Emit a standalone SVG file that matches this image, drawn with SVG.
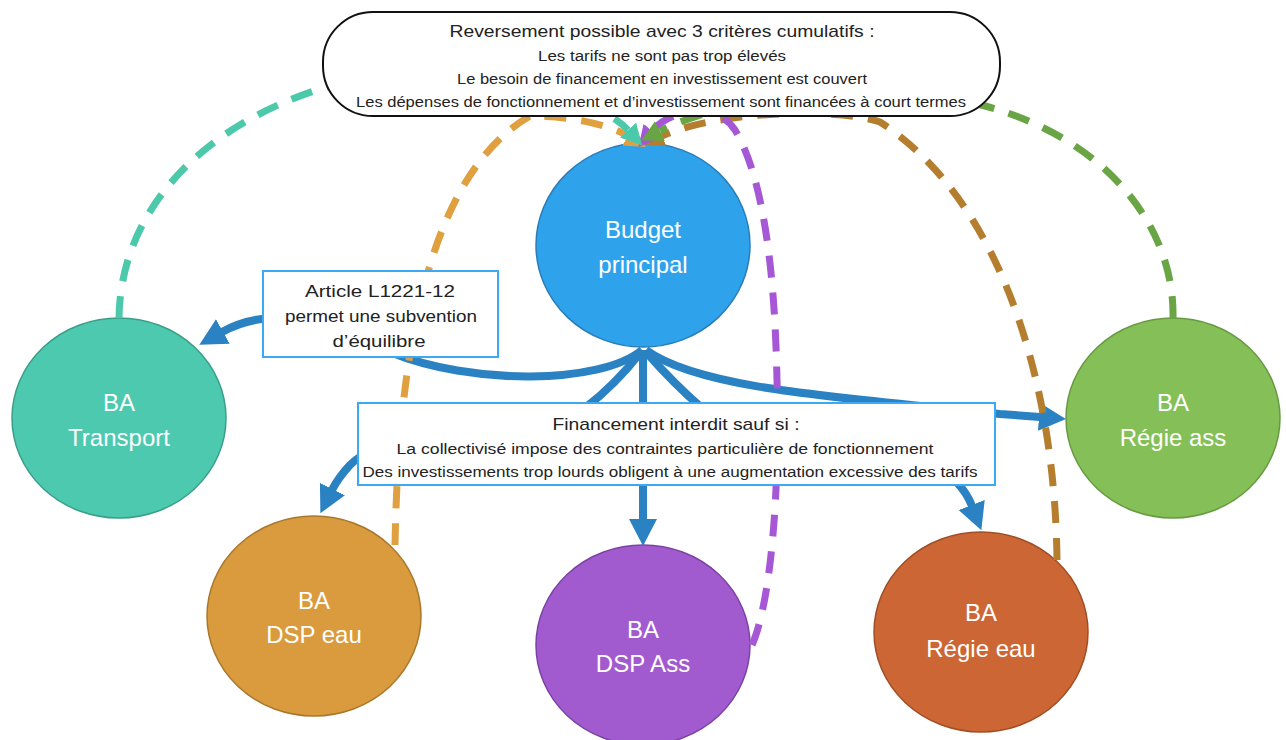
<svg xmlns="http://www.w3.org/2000/svg" width="1286" height="740" viewBox="0 0 1286 740">
<style>
.bg{fill:#ffffff}
.blue{fill:none;stroke:#2A82C3;stroke-width:8}
.dash{fill:none;stroke-width:7;stroke-dasharray:22 15}
.node text{font-family:"Liberation Sans",Arial,sans-serif;font-size:24px;fill:#ffffff;text-anchor:middle}
.box text{font-family:"Liberation Sans",Arial,sans-serif;fill:#222222;text-anchor:middle}
.bbox{fill:#ffffff;stroke:#3DA9F4;stroke-width:2}
.t1{font-size:17px}
.t2{font-size:14px}
</style>
<defs>
<marker id="ab" viewBox="0 0 28 30" refX="1" refY="15" markerWidth="28" markerHeight="30" markerUnits="userSpaceOnUse" orient="auto"><path d="M0,1 L27,15 L0,29 z" fill="#2A82C3"/></marker>
<marker id="at" viewBox="0 0 22 22" refX="0" refY="11" markerWidth="22" markerHeight="22" markerUnits="userSpaceOnUse" orient="auto"><path d="M0,0 L21,11 L0,22 z" fill="#4CC9AA"/></marker>
<marker id="ao" viewBox="0 0 22 22" refX="0" refY="11" markerWidth="22" markerHeight="22" markerUnits="userSpaceOnUse" orient="auto"><path d="M0,0 L21,11 L0,22 z" fill="#E0A040"/></marker>
<marker id="ap" viewBox="0 0 22 22" refX="0" refY="11" markerWidth="22" markerHeight="22" markerUnits="userSpaceOnUse" orient="auto"><path d="M0,0 L21,11 L0,22 z" fill="#A557D6"/></marker>
<marker id="abr" viewBox="0 0 22 22" refX="0" refY="11" markerWidth="22" markerHeight="22" markerUnits="userSpaceOnUse" orient="auto"><path d="M0,0 L21,11 L0,22 z" fill="#B57E2E"/></marker>
<marker id="ag" viewBox="0 0 22 22" refX="0" refY="11" markerWidth="22" markerHeight="22" markerUnits="userSpaceOnUse" orient="auto"><path d="M0,0 L21,11 L0,22 z" fill="#69A544"/></marker>
</defs>
<rect class="bg" x="0" y="0" width="1286" height="740"/>

<g id="budget" class="node">
  <ellipse cx="643" cy="245" rx="107" ry="102" fill="#2EA3EB" stroke="#2A7DB8" stroke-width="1.5"/>
  <text x="643" y="238">Budget</text>
  <text x="643" y="273">principal</text>
</g>

<g id="transport" class="node">
  <ellipse cx="119" cy="418" rx="107" ry="100" fill="#4CC9AE" stroke="#3A9F88" stroke-width="1.5"/>
  <text x="119" y="411">BA</text>
  <text x="119" y="446">Transport</text>
</g>

<g id="dsp-eau" class="node">
  <ellipse cx="314" cy="616" rx="107" ry="100" fill="#D99B3E" stroke="#A9772C" stroke-width="1.5"/>
  <text x="314" y="609">BA</text>
  <text x="314" y="643">DSP eau</text>
</g>

<g id="dsp-ass" class="node">
  <ellipse cx="643" cy="645" rx="107" ry="100" fill="#A15BCF" stroke="#7C42A3" stroke-width="1.5"/>
  <text x="643" y="638">BA</text>
  <text x="643" y="672">DSP Ass</text>
</g>

<g id="regie-eau" class="node">
  <ellipse cx="981" cy="632" rx="107" ry="100" fill="#CC6634" stroke="#A04E25" stroke-width="1.5"/>
  <text x="981" y="621">BA</text>
  <text x="981" y="657">Régie eau</text>
</g>

<g id="regie-ass" class="node">
  <ellipse cx="1173" cy="418" rx="107" ry="100" fill="#84BF58" stroke="#679A42" stroke-width="1.5"/>
  <text x="1173" y="411">BA</text>
  <text x="1173" y="446">Régie ass</text>
</g>

<g id="connectors">
  <!-- blue financing arrows -->
  <path class="blue" d="M642 350 C600 385,470 385,390 352 C320 320,270 305,222 332" marker-end="url(#ab)"/>
  <path class="blue" d="M641 352 Q615 385,585 408 L400 440 Q365 450,350 465 Q338 478,332 490" marker-end="url(#ab)"/>
  <path class="blue" d="M643 350 L643 520" marker-end="url(#ab)"/>
  <path class="blue" d="M646 352 Q675 385,702 408 L930 462 Q962 480,972 506" marker-end="url(#ab)"/>
  <path class="blue" d="M646 350 C700 390,850 398,1000 414 L1040 417" marker-end="url(#ab)"/>
  <!-- dashed reversement arrows -->
  <path class="dash" stroke="#E0A040" d="M395 545 C398 380,420 180,530 116 C570 116,610 125,628 136" marker-end="url(#ao)"/>
  <path class="dash" stroke="#B57E2E" d="M1057 560 C1055 380,1000 200,880 122 C840 108,720 110,662 136" marker-end="url(#abr)"/>
  <path class="dash" stroke="#A557D6" d="M752 645 C772 600,780 480,777 380 C775 280,765 180,735 130 C715 100,670 110,652 131" marker-end="url(#ap)"/>
  <path class="dash" stroke="#4CC9AA" d="M119 318 C120 220,190 130,323 88 C430 55,590 88,628 130" marker-end="url(#at)"/>
  <path class="dash" stroke="#69A544" d="M1173 318 C1175 230,1110 140,985 106 C880 78,730 95,660 131" marker-end="url(#ag)"/>
</g>

<g id="criteres" class="box">
  <rect x="323" y="12" width="677" height="104" rx="50" ry="50" fill="#ffffff" stroke="#111111" stroke-width="2"/>
  <text x="662" y="37" class="t1" textLength="425" lengthAdjust="spacingAndGlyphs">Reversement possible avec 3 critères cumulatifs :</text>
  <text x="662" y="61" class="t2" textLength="248" lengthAdjust="spacingAndGlyphs">Les tarifs ne sont pas trop élevés</text>
  <text x="662" y="84" class="t2" textLength="410" lengthAdjust="spacingAndGlyphs">Le besoin de financement en investissement est couvert</text>
  <text x="661" y="107" class="t2" textLength="610" lengthAdjust="spacingAndGlyphs">Les dépenses de fonctionnement et d’investissement sont financées à court termes</text>
</g>

<g id="article" class="box">
  <rect class="bbox" x="263" y="271" width="235" height="86"/>
  <text x="380" y="297" class="t1" textLength="150" lengthAdjust="spacingAndGlyphs">Article L1221-12</text>
  <text x="381" y="322" class="t1" textLength="192" lengthAdjust="spacingAndGlyphs">permet une subvention</text>
  <text x="379" y="347" class="t1" textLength="93" lengthAdjust="spacingAndGlyphs">d’équilibre</text>
</g>

<g id="interdit" class="box">
  <rect class="bbox" x="358" y="403" width="637" height="82"/>
  <text x="676" y="430" class="t1" textLength="247" lengthAdjust="spacingAndGlyphs">Financement interdit sauf si :</text>
  <text x="665" y="454" class="t2" textLength="537" lengthAdjust="spacingAndGlyphs">La collectivisé impose des contraintes particulière de fonctionnement</text>
  <text x="670" y="477" class="t2" textLength="615" lengthAdjust="spacingAndGlyphs">Des investissements trop lourds obligent à une augmentation excessive des tarifs</text>
</g>
</svg>
